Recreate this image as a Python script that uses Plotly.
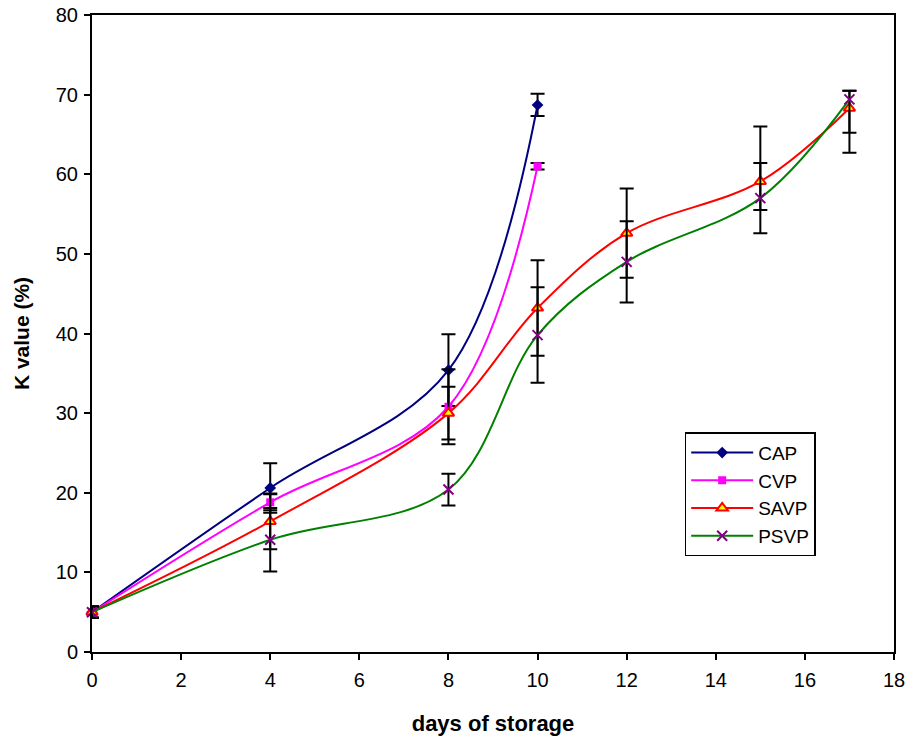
import plotly.graph_objects as go

days_cap = [0, 4, 8, 10]
cap = [5.0, 20.6, 35.4, 68.7]
cap_err = [0.7, 3.1, 4.5, 1.4]

days_cvp = [0, 4, 8, 10]
cvp = [5.0, 18.8, 30.8, 61.0]
cvp_err = [0.7, 1.0, 4.7, 0.4]

days_long = [0, 4, 8, 10, 12, 15, 17]
savp = [5.0, 16.4, 30.0, 43.2, 52.6, 59.1, 68.3]
savp_err_plus = [0.7, 3.5, 3.3, 6.0, 5.6, 6.9, 2.2]
savp_err_minus = [0.7, 3.5, 3.3, 6.0, 5.6, 3.6, 3.1]

psvp = [5.0, 14.1, 20.4, 39.8, 49.0, 57.0, 69.4]
psvp_err_plus = [0.7, 4.0, 2.0, 6.0, 5.1, 4.4, 1.1]
psvp_err_minus = [0.7, 4.0, 2.0, 6.0, 5.1, 4.4, 6.7]

x_ticks = list(range(0, 19, 2))
y_ticks = list(range(0, 81, 10))

FONT = "Liberation Sans, Arial, sans-serif"


def eb(plus, minus=None):
    d = dict(type="data", array=plus, visible=True, color="black",
             thickness=2, width=7)
    if minus is not None:
        d["symmetric"] = False
        d["arrayminus"] = minus
    return d


fig = go.Figure()
fig.add_trace(go.Scatter(
    x=days_cap, y=cap, name="CAP", mode="lines+markers",
    line=dict(color="#000080", width=2, shape="spline", smoothing=1),
    marker=dict(symbol="diamond", size=9, color="#000080"),
    error_y=eb(cap_err), cliponaxis=False))
fig.add_trace(go.Scatter(
    x=days_cvp, y=cvp, name="CVP", mode="lines+markers",
    line=dict(color="#FF00FF", width=2, shape="spline", smoothing=1),
    marker=dict(symbol="square", size=8, color="#FF00FF"),
    error_y=eb(cvp_err), cliponaxis=False))
fig.add_trace(go.Scatter(
    x=days_long, y=savp, name="SAVP", mode="lines+markers",
    line=dict(color="#FF0000", width=2, shape="spline", smoothing=1),
    marker=dict(symbol="triangle-up", size=10, color="#FFFF00",
                line=dict(color="#FF0000", width=2)),
    error_y=eb(savp_err_plus, savp_err_minus), cliponaxis=False))
fig.add_trace(go.Scatter(
    x=days_long, y=psvp, name="PSVP", mode="lines+markers",
    line=dict(color="#008000", width=2, shape="spline", smoothing=1),
    marker=dict(symbol="x-thin", size=10, color="#800080",
                line=dict(color="#800080", width=2)),
    error_y=eb(psvp_err_plus, psvp_err_minus), cliponaxis=False))

axis_common = dict(
    showgrid=False, zeroline=False, showline=True, linecolor="black",
    linewidth=2, mirror=True, ticks="outside", ticklen=6, tickwidth=1.5,
    tickcolor="black", automargin=False, ticklabeloverflow="allow",
    tickfont=dict(family=FONT, size=20, color="black"),
)

fig.update_layout(
    width=909, height=736,
    margin=dict(l=92, r=15, t=15, b=84),
    paper_bgcolor="white", plot_bgcolor="white",
    font=dict(family=FONT, color="black"),
    xaxis=dict(range=[0, 18], tickmode="array", tickvals=x_ticks,
               ticklabelstandoff=3,
               title=dict(text="<b>days of storage</b>",
                          font=dict(family=FONT, size=22), standoff=26),
               **axis_common),
    yaxis=dict(range=[0, 80], tickmode="array", tickvals=y_ticks,
               ticklabelstandoff=2,
               title=dict(text="<b>K value (%)</b>",
                          font=dict(family=FONT, size=21), standoff=20),
               **axis_common),
    legend=dict(x=0.739, y=0.345, xanchor="left", yanchor="top",
                bordercolor="black", borderwidth=1.5, bgcolor="white",
                font=dict(family=FONT, size=19, color="black"),
                itemwidth=62, tracegroupgap=0),
    showlegend=True,
)

fig.write_html(
    "out.html",
    config={"displayModeBar": False},
    post_script="document.body.style.margin='0';"
                "document.body.style.overflow='hidden';",
)
